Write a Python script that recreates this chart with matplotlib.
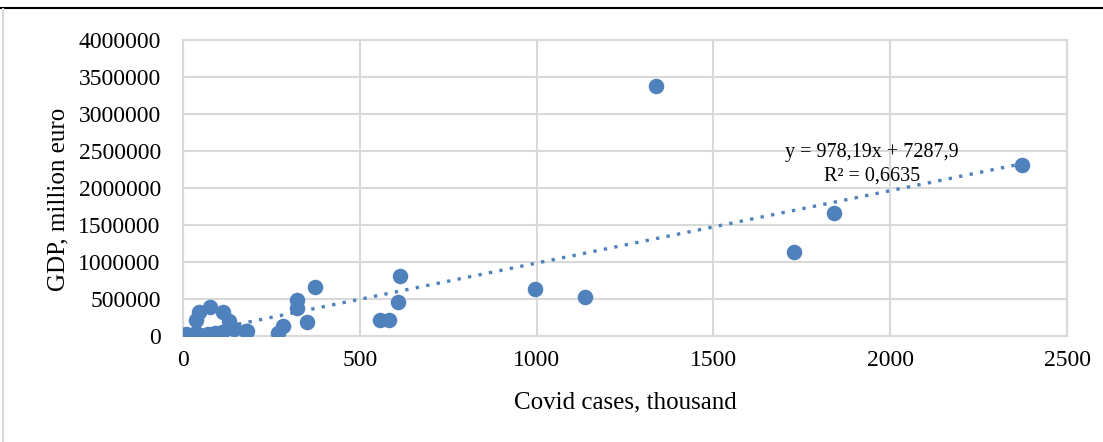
import matplotlib
matplotlib.use("Agg")
import matplotlib.pyplot as plt
from matplotlib.lines import Line2D

# covid cases (thousand) and GDP (million euro)
cases = [1337, 2373, 1841, 1728, 1137, 995, 614, 608, 557, 583,
         373, 322, 322, 351, 283, 269, 181,
         76, 45, 37, 113, 130, 144, 8, 20, 48, 71, 90, 110, 82, 37, 178]
gdp = [3378000, 2311000, 1662000, 1135000, 527000, 635000, 811000, 459000, 216000, 216000,
       662000, 486000, 378000, 189000, 135000, 40000, 68000,
       392000, 324000, 216000, 324000, 203000, 95000, 27000, 14000, 14000, 27000, 41000, 54000, 14000, 41000, 68000]

slope = 978.19
intercept = 7287.9
eq_text = "y = 978,19x + 7287,9\nR² = 0,6635"

x_ticks = [0, 500, 1000, 1500, 2000, 2500]
y_ticks = list(range(0, 4000001, 500000))

plt.rcParams['font.family'] = ['Liberation Serif', 'DejaVu Serif']
blue = '#4F81BD'
grey = '#D9D9D9'

fig = plt.figure(figsize=(11.03, 4.42), dpi=100)
ax = fig.add_axes([0.1659, 0.2398, 0.8015, 0.6697])

ax.scatter(cases, gdp, s=125, color=blue, zorder=3, linewidths=0)
x0, x1 = min(cases), max(cases)
ax.plot([x0, x1], [slope * x0 + intercept, slope * x1 + intercept],
        color=blue, linestyle=(0, (1, 2.2)), linewidth=2.4, zorder=2)

ax.text(1949, 2320000, eq_text, ha='center', va='center', fontsize=14.5,
        linespacing=1.3, zorder=4)

ax.set_xlim(0, 2500)
ax.set_ylim(0, 4000000)
ax.set_xticks(x_ticks)
ax.set_yticks(y_ticks)
ax.set_yticklabels([str(v) for v in y_ticks])
ax.tick_params(length=0, labelsize=17, pad=10)
ax.tick_params(axis='y', pad=16)
ax.grid(True, color=grey, linewidth=1.5)
ax.set_axisbelow(True)
for s in ax.spines.values():
    s.set_color(grey)
    s.set_linewidth(1.5)

ax.set_xlabel("Covid cases, thousand", fontsize=18)
ax.set_ylabel("GDP, million euro", fontsize=18)
ax.xaxis.set_label_coords(0.5, -0.226)
ax.yaxis.set_label_coords(-0.141, 0.463)
ax.xaxis.label.set_va('center')
ax.yaxis.label.set_va('center')

# outer frame bits of the original page
fig.add_artist(Line2D([0, 1], [1 - 8 / 442, 1 - 8 / 442], color='black', linewidth=1.5, transform=fig.transFigure))
fig.add_artist(Line2D([3 / 1103, 3 / 1103], [0, 1 - 9 / 442], color=grey, linewidth=1.5, transform=fig.transFigure))

fig.savefig("out.png", dpi=100)
